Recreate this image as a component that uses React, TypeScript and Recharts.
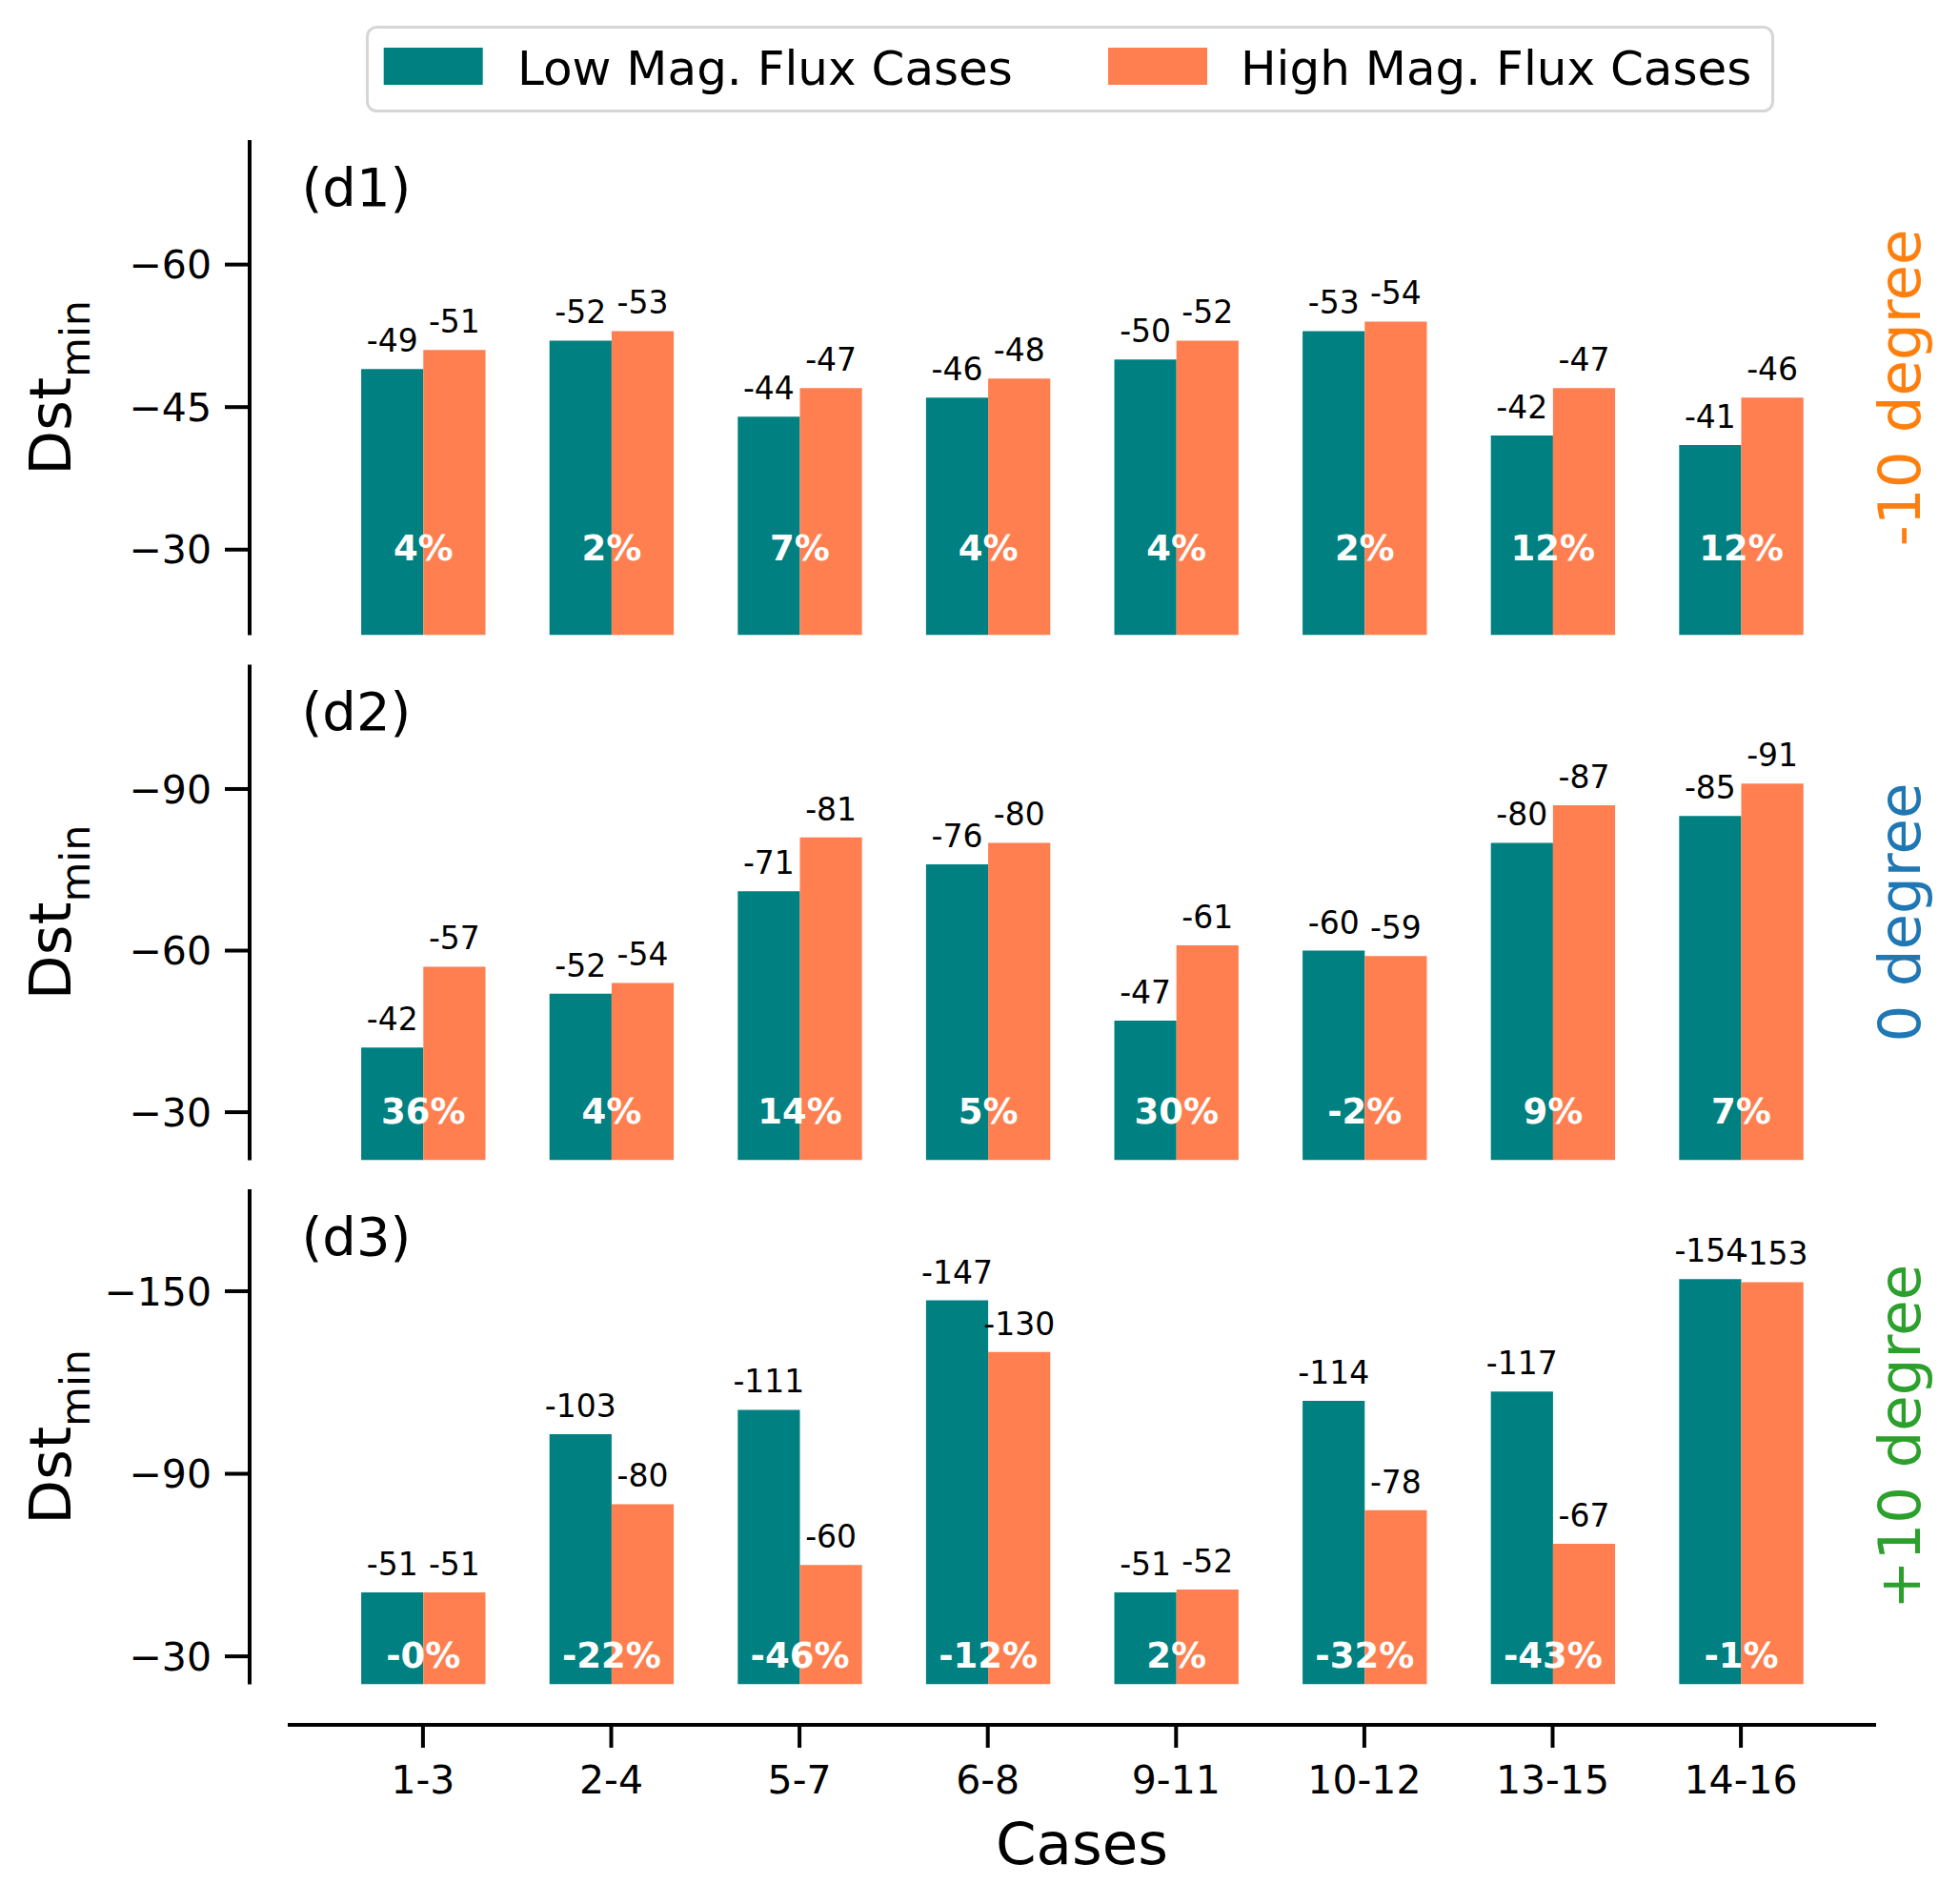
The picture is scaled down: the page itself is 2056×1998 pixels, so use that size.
import React from 'react';
import { BarChart, Bar, XAxis, YAxis, LabelList, Legend } from 'recharts';

// ---------- data ----------
const categories = ['1-3', '2-4', '5-7', '6-8', '9-11', '10-12', '13-15', '14-16'];

const d1Low = [-49, -52, -44, -46, -50, -53, -42, -41];
const d1High = [-51, -53, -47, -48, -52, -54, -47, -46];
const d1Pct = ['4%', '2%', '7%', '4%', '4%', '2%', '12%', '12%'];

const d2Low = [-42, -52, -71, -76, -47, -60, -80, -85];
const d2High = [-57, -54, -81, -80, -61, -59, -87, -91];
const d2Pct = ['36%', '4%', '14%', '5%', '30%', '-2%', '9%', '7%'];

const d3Low = [-51, -103, -111, -147, -51, -114, -117, -154];
const d3High = [-51, -80, -60, -130, -52, -78, -67, -153];
const d3Pct = ['-0%', '-22%', '-46%', '-12%', '2%', '-32%', '-43%', '-1%'];

const d1Ticks = [-60, -45, -30];
const d2Ticks = [-90, -60, -30];
const d3Ticks = [-150, -90, -30];

const d1Domain: [number, number] = [-73.1, -21.0];
const d2Domain: [number, number] = [-113.1, -21.1];
const d3Domain: [number, number] = [-183.5, -20.8];

const PCT_LEVEL = -30;

const seriesOrder = ['low', 'high'];

// ---------- style ----------
const FONT = 'DejaVu Sans';
const TEAL = '#008080';
const CORAL = '#FF7F50';
const W = 2056;

type Row = { cat: string; low: number; high: number; pct: string };
const makeRows = (low: number[], high: number[], pct: string[]): Row[] =>
  categories.map((c, i) => ({ cat: c, low: low[i], high: high[i], pct: pct[i] }));

const rows1 = makeRows(d1Low, d1High, d1Pct);
const rows2 = makeRows(d2Low, d2High, d2Pct);
const rows3 = makeRows(d3Low, d3High, d3Pct);

const fmtTick = (v: number) => String(v).replace('-', '\u2212');

const DstLabel = (props: any) => {
  const vb = props.viewBox || {};
  const bx = vb.x + 74;
  const cy = vb.y + vb.height / 2;
  return (
    <text
      transform={`rotate(-90, ${bx}, ${cy})`}
      x={bx}
      y={cy}
      textAnchor="middle"
      fontFamily={FONT}
      fontSize={61}
      fill="#000"
    >
      Dst
      <tspan fontSize={43} dy={20}>
        min
      </tspan>
    </text>
  );
};

const sideLabels: Record<string, any> = {};
const getSideLabel = (text: string, color: string) => {
  if (!sideLabels[text]) {
    sideLabels[text] = (props: any) => {
      const vb = props.viewBox || {};
      const bx = vb.x + 46;
      const cy = vb.y + vb.height / 2;
      return (
        <text
          transform={`rotate(-90, ${bx}, ${cy})`}
          x={bx}
          y={cy}
          textAnchor="middle"
          fontFamily={FONT}
          fontSize={61}
          fill={color}
        >
          {text}
        </text>
      );
    };
  }
  return sideLabels[text];
};

const makePctLabel = (rows: Row[], base: number) => (props: any) => {
  const vb = props.viewBox || props;
  const idx = props.index;
  const v = rows[idx] ? rows[idx].low : base;
  const p = vb.y + (vb.height * (v - PCT_LEVEL)) / (v - base);
  const cx = vb.x + vb.width;
  return (
    <text
      x={cx}
      y={p + 11.5}
      textAnchor="middle"
      fontFamily={FONT}
      fontWeight="bold"
      fontSize={37}
      fill="#fff"
    >
      {props.value}
    </text>
  );
};

const CasesLabel = (props: any) => {
  const vb = props.viewBox || {};
  return (
    <text
      x={vb.x + vb.width / 2}
      y={vb.y + 146}
      textAnchor="middle"
      fontFamily={FONT}
      fontSize={61}
      fill="#000"
    >
      Cases
    </text>
  );
};

const LegendBox = (props: any) => {
  const raw = props.payload || [];
  const items = [...raw].sort(
    (a: any, b: any) => seriesOrder.indexOf(a.dataKey) - seriesOrder.indexOf(b.dataKey)
  );
  const patchX = [18.7, 779];
  const textX = [159, 918];
  return (
    <svg width={1478} height={91} style={{ display: 'block' }}>
      <rect x={1.5} y={1.5} width={1475} height={88} rx={10} ry={10} fill="#fff" stroke="#d6d6d6" strokeWidth={3} />
      {items.map((it: any, i: number) => (
        <g key={i}>
          <rect x={patchX[i]} y={23} width={104} height={39} fill={it.color} />
          <text x={textX[i]} y={62} fontFamily={FONT} fontSize={50} fill="#000">
            {it.value}
          </text>
        </g>
      ))}
    </svg>
  );
};

const axisStroke = { stroke: '#000', strokeWidth: 4 };
const tickStyle = { fontSize: 41, fill: '#000', fontFamily: FONT };
const pad = { left: 43.1, right: 43.1 };
const dstLabelProp = { content: DstLabel };
const casesLabelProp = { content: CasesLabel };
const legendWrap = { top: 27, left: 384, width: 1478, height: 91 };

type PanelProps = {
  rows: Row[];
  domain: [number, number];
  ticks: number[];
  letter: string;
  sideText: string;
  sideColor: string;
  top: number;
  height: number;
  marginTop: number;
  marginBottom: number;
  bottomAxis?: boolean;
  legend?: boolean;
};

const Panel = (p: PanelProps) => {
  const sideLabelProp = { content: getSideLabel(p.sideText, p.sideColor) };
  return (
    <div style={{ position: 'absolute', left: 0, top: p.top, width: W, height: p.height }}>
      <BarChart
        width={W}
        height={p.height}
        data={p.rows}
        margin={{ top: p.marginTop, right: 0, bottom: p.marginBottom, left: 0 }}
        barGap={0}
      >
        {p.bottomAxis ? (
          <XAxis xAxisId="a_pad" dataKey="cat" height={42.5} tick={false} axisLine={false} tickLine={false} padding={pad} />
        ) : null}
        {p.bottomAxis ? (
          <XAxis
            xAxisId="main"
            dataKey="cat"
            height={170}
            interval={0}
            padding={pad}
            tickSize={24}
            tickMargin={19}
            axisLine={axisStroke}
            tickLine={axisStroke}
            tick={tickStyle}
            label={casesLabelProp}
          />
        ) : (
          <XAxis xAxisId="main" dataKey="cat" hide padding={pad} />
        )}
        <YAxis yAxisId="a_pad" width={40} tick={false} axisLine={false} tickLine={false} />
        <YAxis
          yAxisId="main"
          type="number"
          width={262}
          domain={p.domain}
          reversed
          allowDataOverflow
          ticks={p.ticks}
          interval={0}
          tickFormatter={fmtTick}
          tickSize={26}
          tickMargin={14}
          axisLine={axisStroke}
          tickLine={axisStroke}
          tick={tickStyle}
          label={dstLabelProp}
        />
        <YAxis
          yAxisId="side"
          orientation="right"
          width={87}
          tick={false}
          axisLine={false}
          tickLine={false}
          label={sideLabelProp}
        />
        {p.legend ? (
          <Legend
            verticalAlign="middle"
            align="center"
            layout="horizontal"
            wrapperStyle={legendWrap}
            content={LegendBox}
          />
        ) : null}
        <Bar xAxisId="main" yAxisId="main" dataKey="low" name="Low Mag. Flux Cases" fill={TEAL} barSize={65.2} isAnimationActive={false}>
          <LabelList dataKey="low" position="top" offset={18} fill="#000" fontSize={33} fontFamily={FONT} />
          <LabelList dataKey="pct" content={makePctLabel(p.rows, p.domain[1])} />
        </Bar>
        <Bar xAxisId="main" yAxisId="main" dataKey="high" name="High Mag. Flux Cases" fill={CORAL} barSize={65.2} isAnimationActive={false}>
          <LabelList dataKey="high" position="top" offset={18} fill="#000" fontSize={33} fontFamily={FONT} />
        </Bar>
        <text x={316.5} y={p.marginTop + 69} fontFamily={FONT} fontSize={56} fill="#000">
          {p.letter}
        </text>
      </BarChart>
    </div>
  );
};

export default function App() {
  return (
    <div
      style={{
        position: 'absolute',
        left: 0,
        top: 0,
        width: W,
        height: 1998,
        background: '#fff',
        overflow: 'hidden',
        fontFamily: FONT,
      }}
    >
      <Panel
        rows={rows1}
        domain={d1Domain}
        ticks={d1Ticks}
        letter="(d1)"
        sideText="-10 degree"
        sideColor="#ff7f0e"
        top={0}
        height={690}
        marginTop={147}
        marginBottom={23.5}
        legend
      />
      <Panel
        rows={rows2}
        domain={d2Domain}
        ticks={d2Ticks}
        letter="(d2)"
        sideText="0 degree"
        sideColor="#1f77b4"
        top={680}
        height={560}
        marginTop={17.4}
        marginBottom={22.6}
      />
      <Panel
        rows={rows3}
        domain={d3Domain}
        ticks={d3Ticks}
        letter="(d3)"
        sideText="+10 degree"
        sideColor="#2ca02c"
        top={1230}
        height={768}
        marginTop={18}
        marginBottom={18}
        bottomAxis
      />
    </div>
  );
}
